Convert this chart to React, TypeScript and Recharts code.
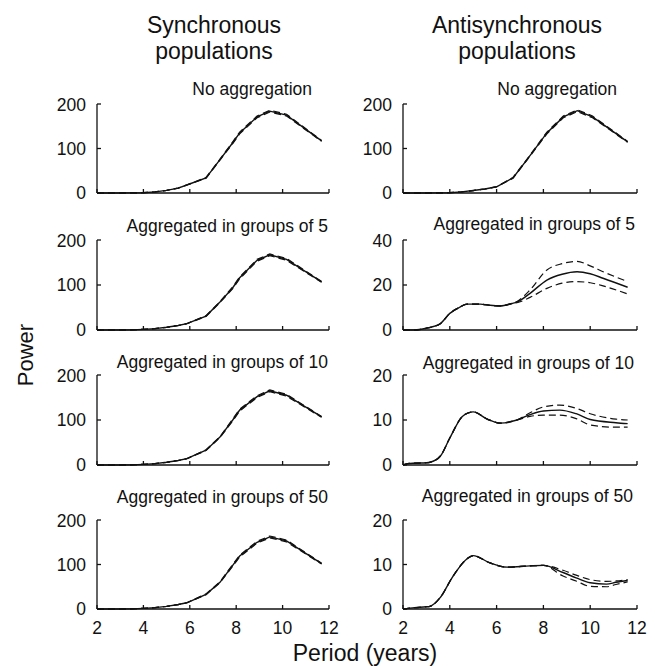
import React from 'react';
import { LineChart, Line, XAxis, YAxis } from 'recharts';

const FONT = '"Liberation Sans", Arial, Helvetica, sans-serif';

const periodTicks = [2, 4, 6, 8, 10, 12];

// synchronous populations (all four panels share the same periods)
const syncPeriods = [2, 2.5, 3, 3.5, 4, 4.5, 5, 5.5, 5.87, 6.7, 7.3, 7.85, 8.15, 8.9, 9.45, 10.17, 11.68];
const syncNoAggMean = [0, 0, 0, 0.2, 0.7, 2.5, 6, 11, 18, 34, 75, 113, 135, 171, 184, 175, 117];
const syncNoAggUpper = [0, 0, 0, 0.2, 0.7, 2.5, 6, 11, 18, 35, 76, 115, 137, 173, 186, 177, 118];
const syncNoAggLower = [0, 0, 0, 0.2, 0.7, 2.5, 6, 11, 18, 33, 74, 111, 133, 169, 182, 173, 116];
const sync5Mean = [0, 0, 0, 0.3, 1.5, 3, 6, 10, 14, 31, 62, 94, 116, 155, 167, 157, 107];
const sync5Upper = [0, 0, 0, 0.3, 1.5, 3, 6, 10, 14, 32, 63, 96, 118, 157, 169, 159, 108];
const sync5Lower = [0, 0, 0, 0.3, 1.5, 3, 6, 10, 14, 30, 61, 92, 114, 153, 165, 155, 106];
const sync10Mean = [0, 0, 0, 0.3, 1.5, 3, 6, 10, 14, 33, 62, 100, 122, 152, 165, 155, 107];
const sync10Upper = [0, 0, 0, 0.3, 1.5, 3, 6, 10, 14, 34, 63, 102, 124, 154, 167, 157, 108];
const sync10Lower = [0, 0, 0, 0.3, 1.5, 3, 6, 10, 14, 32, 61, 98, 120, 150, 163, 153, 106];
const sync50Mean = [0, 0, 0, 0.3, 1.5, 3, 6, 10, 14, 33, 60, 98, 119, 150, 162, 153, 102];
const sync50Upper = [0, 0, 0, 0.3, 1.5, 3, 6, 10, 14, 34, 61, 100, 121, 152, 164, 155, 103];
const sync50Lower = [0, 0, 0, 0.3, 1.5, 3, 6, 10, 14, 32, 59, 96, 117, 148, 160, 151, 101];

// antisynchronous populations
const antiNoAggPeriods = [2, 2.5, 3, 3.5, 4, 4.5, 5, 5.5, 6, 6.7, 7.3, 8.15, 8.85, 9.45, 10.1, 11.6];
const antiNoAggMean = [0, 0, 0, 0.2, 0.7, 2.5, 5.5, 9, 14, 34, 75, 135, 171, 185, 171, 115];
const antiNoAggUpper = [0, 0, 0, 0.2, 0.7, 2.5, 5.5, 9, 14, 35, 76, 137, 173, 187, 173, 116];
const antiNoAggLower = [0, 0, 0, 0.2, 0.7, 2.5, 5.5, 9, 14, 33, 74, 133, 169, 183, 169, 114];

const anti5Periods = [2, 2.5, 3, 3.58, 4, 4.4, 4.74, 5.3, 5.7, 6.15, 6.66, 6.87, 7.43, 8.15, 8.8, 9.44, 10, 10.55, 11.6];
const anti5Mean = [0, 0, 0.8, 2.7, 7.4, 10, 11.5, 11.5, 11, 10.7, 11.8, 12.4, 16.3, 22.2, 24.8, 25.9, 25, 23, 19];
const anti5Upper = [0, 0, 0.8, 2.7, 7.4, 10, 11.5, 11.5, 11, 10.7, 11.8, 12.7, 17.8, 26.7, 29.5, 30.5, 28.5, 25.9, 21.5];
const anti5Lower = [0, 0, 0.8, 2.7, 7.4, 10, 11.5, 11.5, 11, 10.7, 11.8, 12.1, 14.5, 18.5, 20.8, 21.5, 21, 19.6, 16];

const anti10Periods = [2, 2.2, 2.5, 3, 3.15, 3.6, 4, 4.56, 5, 5.6, 6.15, 6.87, 7.43, 8, 8.7, 9.4, 10, 11.1, 11.6];
const anti10Mean = [0, 0.3, 0.4, 0.5, 0.6, 2, 6, 10.9, 11.8, 10.2, 9.3, 10, 11.2, 12, 12.2, 11.4, 10.1, 9.4, 9.2];
const anti10Upper = [0, 0.3, 0.4, 0.5, 0.6, 2, 6, 10.9, 11.8, 10.2, 9.3, 10, 11.6, 12.9, 13.3, 12.6, 11.4, 10.2, 10];
const anti10Lower = [0, 0.3, 0.4, 0.5, 0.6, 2, 6, 10.9, 11.8, 10.2, 9.3, 10, 10.8, 11.1, 11.1, 10.3, 8.9, 8.4, 8.4];

const anti50Periods = [2, 2.5, 3, 3.15, 3.58, 4.14, 4.74, 5, 5.7, 6.45, 7.43, 8, 8.84, 9.4, 10, 10.7, 11.1, 11.6];
const anti50Mean = [0, 0.3, 0.5, 0.6, 2.5, 7.4, 11.3, 12, 10.4, 9.4, 9.7, 9.8, 8.2, 7, 5.9, 5.6, 6, 6.4];
const anti50Upper = [0, 0.3, 0.5, 0.6, 2.5, 7.4, 11.3, 12, 10.4, 9.4, 9.7, 9.8, 8.7, 7.6, 6.6, 6.2, 6.3, 6.6];
const anti50Lower = [0, 0.3, 0.5, 0.6, 2.5, 7.4, 11.3, 12, 10.4, 9.4, 9.7, 9.8, 7.4, 6.3, 5.1, 5, 5.5, 6.1];

const toRows = (xs: number[], mean: number[], upper: number[], lower: number[]) =>
  xs.map((x, i) => ({ x, mean: mean[i], upper: upper[i], lower: lower[i] }));

type PanelProps = {
  x0: number;
  y0: number;
  w: number;
  h: number;
  rows: any[];
  yMax: number;
  yTicks: number[];
  showX?: boolean;
  curve: 'linear' | 'monotone';
};

const INK = '#111';

const Panel = ({ x0, y0, w, h, rows, yMax, yTicks, showX, curve }: PanelProps) => (
  <div style={{ position: 'absolute', left: x0 - 60, top: y0 - 10 }}>
    <LineChart width={w + 70} height={h + 40} data={rows} margin={{ top: 10, right: 10, bottom: 0, left: 0 }}>
      <XAxis
        type="number"
        dataKey="x"
        domain={[2, 12]}
        ticks={periodTicks}
        allowDataOverflow
        height={30}
        tickSize={-4}
        tickMargin={17}
        stroke={INK}
        strokeWidth={1.3}
        tick={{ fill: INK, fontSize: 17.5 }}
        tickFormatter={(v) => (showX ? String(v) : '')}
      />
      <YAxis
        type="number"
        domain={[0, yMax]}
        ticks={yTicks}
        width={60}
        tickSize={-4}
        tickMargin={15}
        stroke={INK}
        strokeWidth={1.3}
        tick={{ fill: INK, fontSize: 17.5 }}
      />
      <Line type={curve} dataKey="upper" stroke={INK} strokeWidth={1.2} strokeDasharray="7 4" dot={false} isAnimationActive={false} />
      <Line type={curve} dataKey="lower" stroke={INK} strokeWidth={1.2} strokeDasharray="7 4" dot={false} isAnimationActive={false} />
      <Line type={curve} dataKey="mean" stroke={INK} strokeWidth={1.4} dot={false} isAnimationActive={false} />
    </LineChart>
  </div>
);

const LEFT = { x0: 97, w: 232 };
const RIGHT = { x0: 403, w: 234 };
const ROW_Y = [104, 240, 375, 520];
const ROW_H = [89, 90, 90, 89];

const Txt = ({ x, y, size, anchor = 'middle', children }: any) => (
  <text x={x} y={y} fontSize={size} textAnchor={anchor} fill={INK}>
    {children}
  </text>
);

export default function App() {
  return (
    <div style={{ position: 'absolute', left: 0, top: 0, width: 655, height: 666, background: '#fff', fontFamily: FONT }}>
      <Panel {...LEFT} y0={ROW_Y[0]} h={ROW_H[0]} rows={toRows(syncPeriods, syncNoAggMean, syncNoAggUpper, syncNoAggLower)} yMax={200} yTicks={[0, 100, 200]} curve="linear" />
      <Panel {...LEFT} y0={ROW_Y[1]} h={ROW_H[1]} rows={toRows(syncPeriods, sync5Mean, sync5Upper, sync5Lower)} yMax={200} yTicks={[0, 100, 200]} curve="linear" />
      <Panel {...LEFT} y0={ROW_Y[2]} h={ROW_H[2]} rows={toRows(syncPeriods, sync10Mean, sync10Upper, sync10Lower)} yMax={200} yTicks={[0, 100, 200]} curve="linear" />
      <Panel {...LEFT} y0={ROW_Y[3]} h={ROW_H[3]} rows={toRows(syncPeriods, sync50Mean, sync50Upper, sync50Lower)} yMax={200} yTicks={[0, 100, 200]} curve="linear" showX />

      <Panel {...RIGHT} y0={ROW_Y[0]} h={ROW_H[0]} rows={toRows(antiNoAggPeriods, antiNoAggMean, antiNoAggUpper, antiNoAggLower)} yMax={200} yTicks={[0, 100, 200]} curve="linear" />
      <Panel {...RIGHT} y0={ROW_Y[1]} h={ROW_H[1]} rows={toRows(anti5Periods, anti5Mean, anti5Upper, anti5Lower)} yMax={40} yTicks={[0, 20, 40]} curve="monotone" />
      <Panel {...RIGHT} y0={ROW_Y[2]} h={ROW_H[2]} rows={toRows(anti10Periods, anti10Mean, anti10Upper, anti10Lower)} yMax={20} yTicks={[0, 10, 20]} curve="monotone" />
      <Panel {...RIGHT} y0={ROW_Y[3]} h={ROW_H[3]} rows={toRows(anti50Periods, anti50Mean, anti50Upper, anti50Lower)} yMax={20} yTicks={[0, 10, 20]} curve="monotone" showX />

      <svg width={655} height={666} style={{ position: 'absolute', left: 0, top: 0, pointerEvents: 'none' }}>
        <Txt x={214} y={33} size={23}>Synchronous</Txt>
        <Txt x={214} y={59} size={23}>populations</Txt>
        <Txt x={517} y={33} size={23}>Antisynchronous</Txt>
        <Txt x={517} y={59} size={23}>populations</Txt>

        <Txt x={312} y={95} size={17.5} anchor="end">No aggregation</Txt>
        <Txt x={328} y={232} size={17.5} anchor="end">Aggregated in groups of 5</Txt>
        <Txt x={328} y={368} size={17.5} anchor="end">Aggregated in groups of 10</Txt>
        <Txt x={328} y={503} size={17.5} anchor="end">Aggregated in groups of 50</Txt>

        <Txt x={617} y={95} size={17.5} anchor="end">No aggregation</Txt>
        <Txt x={635} y={230} size={17.5} anchor="end">Aggregated in groups of 5</Txt>
        <Txt x={634} y={369} size={17.5} anchor="end">Aggregated in groups of 10</Txt>
        <Txt x={633} y={502} size={17.5} anchor="end">Aggregated in groups of 50</Txt>

        <text x={0} y={0} fontSize={22} textAnchor="middle" fill={INK} transform="translate(33,355) rotate(-90)">
          Power
        </text>
        <Txt x={365} y={661} size={23}>Period (years)</Txt>
      </svg>
    </div>
  );
}
